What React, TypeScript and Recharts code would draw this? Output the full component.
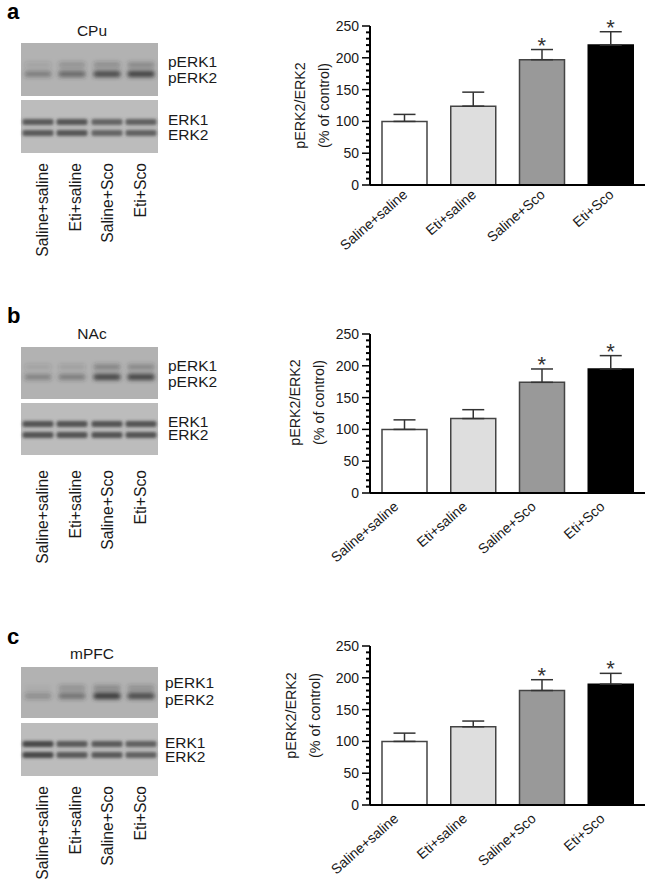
import { ComposedChart, Bar, Cell, Line, XAxis, YAxis, ErrorBar, LabelList } from 'recharts';

const categories = ['Saline+saline', 'Eti+saline', 'Saline+Sco', 'Eti+Sco'];
const barColors = ['#ffffff', '#dedede', '#999999', '#000000'];
const stars = ['', '', '*', '*'];
const yTicks = [0, 10, 20, 30, 40, 50, 60, 70, 80, 90, 100, 110, 120, 130, 140, 150, 160, 170, 180, 190, 200, 210, 220, 230, 240, 250];

const cpuValues = [100, 124, 197, 220];
const cpuErrors = [11, 22, 16, 21];
const nacValues = [100, 117, 174, 195];
const nacErrors = [15, 14, 21, 21];
const mpfcValues = [100, 123, 180, 190];
const mpfcErrors = [13, 9, 17, 17];

// band darkness per lane (0-1)
const cpuPerk1 = [0.12, 0.25, 0.28, 0.32];
const cpuPerk2 = [0.4, 0.6, 0.85, 0.95];
const nacPerk1 = [0.12, 0.14, 0.35, 0.32];
const nacPerk2 = [0.36, 0.4, 0.88, 0.92];
const mpfcPerk1 = [0.04, 0.25, 0.32, 0.26];
const mpfcPerk2 = [0.28, 0.5, 1, 0.85];
const cpuErk = [0.72, 0.75, 0.66, 0.68];
const nacErk = [0.78, 0.78, 0.78, 0.78];
const mpfcErk = [0.85, 0.72, 0.72, 0.68];

const FONT = '"Liberation Sans", Arial, sans-serif';
const LANES = [38, 72, 107, 141];

function YTick({ x, y, payload }: any) {
    const major = payload.value % 50 === 0;
    return (
        <g>
            <line x1={x + 8 - (major ? 8 : 4)} x2={x + 8} y1={y} y2={y} stroke="#000" strokeWidth={major ? 1.5 : 2} />
            {major && (
                <text x={x - 3} y={y + 5} textAnchor="end" fontSize={14} fontFamily={FONT} fill="#1a1a1a">
                    {payload.value}
                </text>
            )}
        </g>
    );
}

function Chart({ top, values, errors, tickDx, tickDy, labelX, labelDy }: any) {
    const data = categories.map((name, i) => ({
        name,
        value: values[i],
        err: [0, errors[i]],
        top: values[i] + errors[i],
        star: stars[i],
    }));

    const renderXTick = ({ x, y, payload }: any) => (
        <text
            x={x + tickDx}
            y={y + tickDy}
            textAnchor="end"
            fontSize={14}
            fontFamily={FONT}
            fill="#1a1a1a"
            transform={`rotate(-41 ${x + tickDx} ${y + tickDy})`}
        >
            {payload.value}
        </text>
    );

    const renderYLabel = ({ viewBox }: any) => {
        const cy = viewBox.y + viewBox.height / 2 + labelDy;
        return (
            <g fontSize={14.3} fontFamily={FONT} fill="#1a1a1a" textAnchor="middle">
                <text transform={`translate(${labelX} ${cy}) rotate(-90)`}>pERK2/ERK2</text>
                <text transform={`translate(${labelX + 24} ${cy}) rotate(-90)`}>(% of control)</text>
            </g>
        );
    };

    return (
        <div style={{ position: 'absolute', left: 280, top }}>
            <ComposedChart width={374} height={259} data={data} margin={{ top: 10, right: 9, bottom: 0, left: 0 }} barCategoryGap={0}>
                <XAxis
                    dataKey="name"
                    height={90}
                    interval={0}
                    tickLine={false}
                    tick={renderXTick}
                    axisLine={{ stroke: '#000', strokeWidth: 2 }}
                />
                <YAxis
                    width={90}
                    domain={[0, 250]}
                    ticks={yTicks}
                    interval={0}
                    tickLine={false}
                    tick={<YTick />}
                    axisLine={{ stroke: '#000', strokeWidth: 2 }}
                    label={{ content: renderYLabel }}
                />
                <Bar dataKey="value" barSize={45} stroke="#444" strokeWidth={1.5} isAnimationActive={false}>
                    {categories.map((c, i) => (
                        <Cell key={c} fill={barColors[i]} stroke={i === 3 ? '#000' : '#444'} />
                    ))}
                    <ErrorBar dataKey="err" direction="y" width={11} stroke="#333" strokeWidth={1.5} isAnimationActive={false} />
                </Bar>
                <Line dataKey="top" stroke="none" dot={false} legendType="none" isAnimationActive={false}>
                    <LabelList dataKey="star" position="top" offset={-3} fontSize={22} fontFamily={FONT} fill="#333" />
                </Line>
            </ComposedChart>
        </div>
    );
}

function Blot({ y, height, bg, bandA, bandB, darkA, darkB, bandWidth, bandHeight, filter }: any) {
    return (
        <g>
            <rect x={21} y={y} width={137} height={height} fill={bg} />
            <g filter={filter}>
                {LANES.map((cx, i) => (
                    <g key={cx}>
                        <rect x={cx - bandWidth / 2} y={bandA - bandHeight / 2} width={bandWidth} height={bandHeight} rx={2} fill="#333" opacity={darkA[i]} />
                        <rect x={cx - bandWidth / 2} y={bandB - bandHeight / 2} width={bandWidth} height={bandHeight} rx={2} fill="#333" opacity={darkB[i]} />
                    </g>
                ))}
            </g>
        </g>
    );
}

function Gel({ letter, letterY, title, titleY, blotTop, perkY, erkY, perk1, perk2, erk, labelYs, labelX, laneTop }: any) {
    return (
        <g fontFamily={FONT} fill="#1a1a1a">
            <text x={7} y={letterY} fontSize={22} fontWeight={700} fill="#000">{letter}</text>
            <text x={92} y={titleY} fontSize={15.5} textAnchor="middle">{title}</text>
            <Blot y={blotTop[0]} height={blotTop[1]} bg="#b2b2b2" bandA={perkY[0]} bandB={perkY[1]} darkA={perk1} darkB={perk2} bandWidth={27} bandHeight={6} filter="url(#softA)" />
            <Blot y={blotTop[2]} height={blotTop[3]} bg="#bcbcbc" bandA={erkY[0]} bandB={erkY[1]} darkA={erk} darkB={erk} bandWidth={31} bandHeight={6} filter="url(#softB)" />
            <text x={labelX} y={labelYs[0]} fontSize={15.5}>pERK1</text>
            <text x={labelX} y={labelYs[1]} fontSize={15.5}>pERK2</text>
            <text x={labelX} y={labelYs[2]} fontSize={15.5}>ERK1</text>
            <text x={labelX} y={labelYs[3]} fontSize={15.5}>ERK2</text>
            {categories.map((c, i) => (
                <text key={c} transform={`translate(${48 + i * 32.7} ${laneTop}) rotate(-90)`} textAnchor="end" fontSize={15.7}>
                    {c}
                </text>
            ))}
        </g>
    );
}

export default function App() {
    return (
        <div style={{ position: 'absolute', left: 0, top: 0, width: 654, height: 889, background: '#fff', overflow: 'hidden' }}>
            <svg width={654} height={889} style={{ position: 'absolute', left: 0, top: 0 }}>
                <defs>
                    <filter id="softA" x="-10%" y="-50%" width="120%" height="200%">
                        <feGaussianBlur stdDeviation="2" />
                    </filter>
                    <filter id="softB" x="-10%" y="-50%" width="120%" height="200%">
                        <feGaussianBlur stdDeviation="1.5" />
                    </filter>
                </defs>
                <Gel letter="a" letterY={19} title="CPu" titleY={36} blotTop={[43, 53, 100, 53]} perkY={[65, 74]} erkY={[122, 133]}
                    perk1={cpuPerk1} perk2={cpuPerk2} erk={cpuErk} labelYs={[67, 83, 125, 140]} labelX={168} laneTop={163} />
                <Gel letter="b" letterY={323} title="NAc" titleY={339} blotTop={[347, 52, 403, 52]} perkY={[367, 377]} erkY={[424, 435]}
                    perk1={nacPerk1} perk2={nacPerk2} erk={nacErk} labelYs={[371, 387, 427, 440]} labelX={168} laneTop={470} />
                <Gel letter="c" letterY={644} title="mPFC" titleY={659} blotTop={[667, 51, 723, 53]} perkY={[688, 696]} erkY={[744, 755]}
                    perk1={mpfcPerk1} perk2={mpfcPerk2} erk={mpfcErk} labelYs={[688, 705, 748, 762]} labelX={165} laneTop={786} />
            </svg>
            <Chart top={16} values={cpuValues} errors={cpuErrors} tickDx={4} tickDy={3} labelX={25} labelDy={0} />
            <Chart top={324} values={nacValues} errors={nacErrors} tickDx={-5} tickDy={7} labelX={20} labelDy={-11} />
            <Chart top={636} values={mpfcValues} errors={mpfcErrors} tickDx={-5} tickDy={7} labelX={16} labelDy={-10} />
        </div>
    );
}
